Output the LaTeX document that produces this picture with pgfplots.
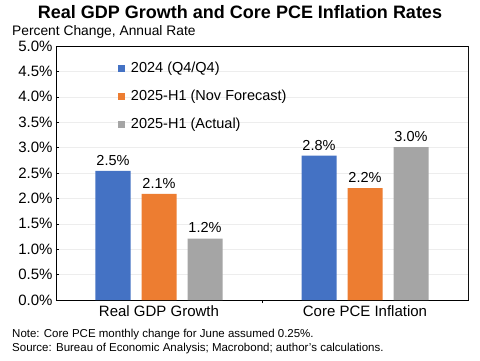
\documentclass[border=0pt]{standalone}
\usepackage{pgfplots}
\pgfplotsset{compat=1.18}
\usepackage{fontspec}
\setmainfont{Liberation Sans}
\definecolor{cblue}{HTML}{4472C4}
\definecolor{corange}{HTML}{ED7D31}
\definecolor{cgray}{HTML}{A5A5A5}
\begin{document}
\begin{tikzpicture}[x=1pt,y=1pt]
\useasboundingbox[fill=white] (0,0) rectangle (480,360);
\node[font=\fontsize{18}{20}\selectfont\bfseries] at (240,348) {Real GDP Growth and Core PCE Inflation Rates};
\node[anchor=west,inner sep=0pt,font=\fontsize{13.8}{15}\selectfont] at (12,328.5) {Percent Change, Annual Rate};
\node[anchor=west,inner sep=0pt,font=\fontsize{11.5}{13}\selectfont] at (12,25) {Note: Core PCE monthly change for June assumed 0.25\%.};
\node[anchor=west,inner sep=0pt,font=\fontsize{11.5}{13}\selectfont] at (12,11) {Source: Bureau of Economic Analysis; Macrobond; author's calculations.};
\begin{axis}[
  at={(56pt,60pt)}, anchor=south west,
  width=412pt, height=254pt, scale only axis,
  ymin=0, ymax=5,
  ytick={0,0.5,1,1.5,2,2.5,3,3.5,4,4.5,5},
  yticklabel={\pgfmathprintnumber[fixed,fixed zerofill,precision=1]{\tick}\%},
  /pgf/number format/assume math mode=true,
  ticklabel style={font=\fontsize{15}{16}\selectfont},
  ytick pos=left, tick align=inside, major tick length=3pt,
  tick style={black, thin},
  ymajorgrids, grid style={draw=black!7, line width=0.6pt},
  xmin=-0.5, xmax=1.5,
  xtick={0.5}, xticklabels={}, xtick pos=bottom,
  extra x ticks={0,1},
  extra x tick labels={Real GDP Growth, Core PCE Inflation},
  extra x tick style={major tick length=0pt, grid=none},
  xticklabel style={yshift=-2.5pt},
  axis line style={black, line width=0.7pt},
  ybar=11pt, bar width=35pt,
  point meta=y,
  nodes near coords={\pgfmathprintnumber[fixed,fixed zerofill,precision=1]{\pgfplotspointmeta}\%},
  every node near coord/.append style={font=\fontsize{14.5}{15}\selectfont, black, yshift=2pt},
  legend style={draw=none, fill=none, at={(0.15,0.944)}, anchor=north west,
    font=\fontsize{14.5}{16}\selectfont, row sep=12pt, inner sep=0pt,
    nodes={inner xsep=6pt}},
  legend cell align=left,
  legend image code/.code={\fill (0pt,-3.5pt) rectangle (7pt,3.5pt);},
]
\addplot[fill=cblue, draw=none] coordinates {(0,2.54) (1,2.84)};
\addplot[fill=corange, draw=none] coordinates {(0,2.09) (1,2.20)};
\addplot[fill=cgray, draw=none] coordinates {(0,1.21) (1,3.01)};
\legend{2024 (Q4/Q4), 2025-H1 (Nov Forecast), 2025-H1 (Actual)}
\draw[gray, line width=1pt] (rel axis cs:1,0) -- (rel axis cs:1,1);
\end{axis}
\end{tikzpicture}
\end{document}
